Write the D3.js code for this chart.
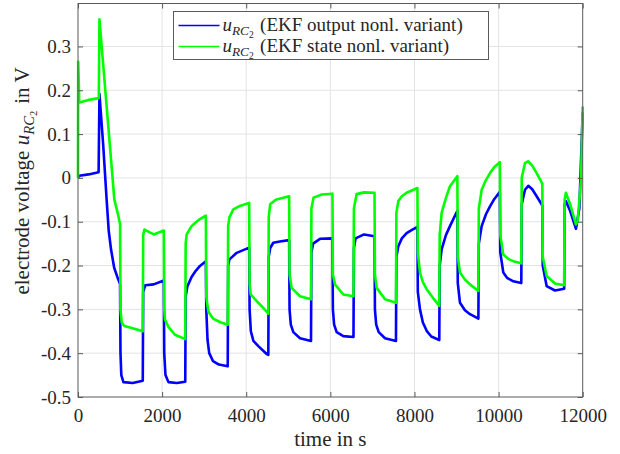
<!DOCTYPE html>
<html>
<head>
<meta charset="utf-8">
<script src="https://cdn.jsdelivr.net/npm/d3@7"></script>
<style>
  body { margin: 0; background: #fff; }
  svg { display: block; }
</style>
</head>
<body>
<svg id="chart" width="620" height="454"></svg>
<script>
// time in s, electrode voltage u_RC2 in V
const OUTPUT_NONL = [
  [0, 0.0], [30, 0.005], [250, 0.008], [490, 0.013], [510, 0.192], [600, 0.074], [681, -0.05], [730, -0.12],
  [785, -0.163], [860, -0.205], [935, -0.226], [1000, -0.242],
  [1010, -0.40], [1030, -0.45], [1080, -0.466], [1300, -0.468], [1540, -0.463],
  [1550, -0.26], [1600, -0.245], [1800, -0.243], [2040, -0.234],
  [2050, -0.40], [2080, -0.45], [2150, -0.466], [2350, -0.468], [2550, -0.465],
  [2560, -0.27], [2600, -0.248], [2700, -0.226], [2800, -0.212], [2900, -0.201], [3040, -0.19],
  [3050, -0.30], [3080, -0.37], [3120, -0.40], [3210, -0.418], [3350, -0.426], [3560, -0.43],
  [3570, -0.20], [3600, -0.186], [3773, -0.171], [3900, -0.166], [4070, -0.159],
  [4080, -0.30], [4110, -0.35], [4170, -0.372], [4300, -0.385], [4486, -0.402], [4525, -0.404],
  [4535, -0.18], [4570, -0.16], [4643, -0.148], [4800, -0.145], [5020, -0.142],
  [5030, -0.30], [5060, -0.335], [5120, -0.352], [5278, -0.366], [5540, -0.372],
  [5550, -0.17], [5590, -0.15], [5754, -0.139], [6050, -0.138],
  [6060, -0.30], [6090, -0.335], [6150, -0.352], [6308, -0.361], [6550, -0.363],
  [6560, -0.16], [6600, -0.138], [6800, -0.129], [7050, -0.133],
  [7060, -0.30], [7090, -0.335], [7150, -0.352], [7299, -0.366], [7560, -0.372],
  [7570, -0.18], [7616, -0.156], [7700, -0.138], [7814, -0.126], [7950, -0.118], [8070, -0.112],
  [8080, -0.26], [8131, -0.30], [8200, -0.33], [8290, -0.349], [8400, -0.362], [8590, -0.37],
  [8600, -0.20], [8646, -0.163], [8750, -0.13], [8844, -0.11], [9020, -0.075],
  [9030, -0.24], [9082, -0.285], [9200, -0.302], [9320, -0.311], [9520, -0.321],
  [9530, -0.15], [9598, -0.11], [9700, -0.083], [9796, -0.065], [9900, -0.048], [10030, -0.032],
  [10040, -0.17], [10112, -0.216], [10200, -0.228], [10350, -0.236], [10540, -0.24],
  [10550, -0.06], [10628, -0.027], [10707, -0.018], [10800, -0.026], [10905, -0.042], [11040, -0.063],
  [11050, -0.20], [11143, -0.247], [11341, -0.257], [11560, -0.253],
  [11570, -0.06], [11600, -0.053], [11700, -0.075], [11840, -0.116], [11920, -0.07], [12000, 0.15]
];

const STATE_NONL = [
  [0, 0.0], [5, 0.265], [30, 0.172], [250, 0.178], [495, 0.182], [510, 0.362], [864, -0.049], [943, -0.08], [1000, -0.105],
  [1010, -0.30], [1040, -0.33], [1100, -0.338], [1300, -0.343], [1540, -0.35],
  [1550, -0.13], [1580, -0.118], [1800, -0.129], [2040, -0.12],
  [2050, -0.30], [2068, -0.323], [2150, -0.340], [2306, -0.358], [2550, -0.368],
  [2560, -0.15], [2584, -0.129], [2700, -0.11], [2782, -0.103], [2900, -0.094], [3040, -0.086],
  [3050, -0.27], [3098, -0.305], [3210, -0.321], [3400, -0.330], [3560, -0.335],
  [3570, -0.11], [3600, -0.09], [3693, -0.072], [3850, -0.064], [4070, -0.057],
  [4080, -0.24], [4105, -0.266], [4249, -0.281], [4400, -0.296], [4525, -0.31],
  [4535, -0.09], [4570, -0.06], [4700, -0.05], [5020, -0.042],
  [5030, -0.22], [5080, -0.251], [5278, -0.27], [5540, -0.277],
  [5550, -0.07], [5600, -0.045], [5800, -0.038], [6050, -0.036],
  [6060, -0.22], [6110, -0.243], [6308, -0.266], [6550, -0.27],
  [6560, -0.07], [6625, -0.037], [6800, -0.033], [7050, -0.034],
  [7060, -0.22], [7101, -0.251], [7299, -0.277], [7560, -0.285],
  [7570, -0.08], [7616, -0.053], [7700, -0.042], [7814, -0.034], [8070, -0.023],
  [8080, -0.17], [8131, -0.216], [8200, -0.238], [8290, -0.254], [8450, -0.275], [8590, -0.292],
  [8600, -0.13], [8646, -0.08], [8750, -0.045], [8844, -0.019], [9020, 0.004],
  [9030, -0.18], [9082, -0.216], [9200, -0.232], [9320, -0.243], [9520, -0.258],
  [9530, -0.07], [9598, -0.027], [9700, -0.005], [9796, 0.011], [9900, 0.025], [10030, 0.036],
  [10040, -0.13], [10112, -0.175], [10250, -0.186], [10350, -0.19], [10540, -0.195],
  [10550, 0.0], [10628, 0.034], [10700, 0.038], [10800, 0.028], [10905, 0.011], [11040, -0.013],
  [11050, -0.18], [11143, -0.224], [11341, -0.241], [11560, -0.245],
  [11570, -0.05], [11600, -0.034], [11700, -0.06], [11840, -0.106], [11880, -0.098], [11960, -0.005], [12000, 0.163]
];

const X_TICKS = [0, 2000, 4000, 6000, 8000, 10000, 12000];
const Y_TICKS = [-0.5, -0.4, -0.3, -0.2, -0.1, 0, 0.1, 0.2, 0.3];
const SERIES_NAMES = ['(EKF output nonl. variant)', '(EKF state nonl. variant)'];
const SERIES_COLORS = ['#0000ff', '#00ff00'];

const SERIF = '"Liberation Serif"';

function drawChart() {
  const svg = d3.select('#chart');
  const margin = { top: 3.5, right: 37.3, bottom: 57, left: 78 };
  const width = 620 - margin.left - margin.right;
  const height = 454 - margin.top - margin.bottom;
  const axisColor = '#5a5a5a';

  const x = d3.scaleLinear().domain([0, 12000]).range([0, width]);
  const y = d3.scaleLinear().domain([-0.5, 0.398]).range([height, 0]);

  const g = svg.append('g').attr('transform', `translate(${margin.left},${margin.top})`);

  // grid
  g.append('g').selectAll('line')
    .data(X_TICKS.slice(1, -1))
    .enter().append('line')
    .attr('x1', d => x(d)).attr('x2', d => x(d))
    .attr('y1', 0).attr('y2', height)
    .attr('stroke', '#e3e3e3');
  g.append('g').selectAll('line')
    .data(Y_TICKS.slice(1))
    .enter().append('line')
    .attr('x1', 0).attr('x2', width)
    .attr('y1', d => y(d)).attr('y2', d => y(d))
    .attr('stroke', '#e3e3e3');

  // series
  const line = d3.line().x(d => x(d[0])).y(d => y(d[1]));
  [OUTPUT_NONL, STATE_NONL].forEach((data, i) => {
    g.append('path')
      .datum(data)
      .attr('fill', 'none')
      .attr('stroke', SERIES_COLORS[i])
      .attr('stroke-width', 2.6)
      .attr('stroke-linejoin', 'round')
      .attr('d', line);
  });

  // axes with inward ticks on all four sides
  const fmt = d => (d < 0 ? '-' : '') + Math.abs(d).toString();
  const styleAxis = sel => {
    sel.select('.domain').remove();
    sel.selectAll('.tick line').attr('stroke', axisColor);
    sel.selectAll('.tick text')
      .attr('fill', '#262626')
      .style('font-family', SERIF)
      .style('font-size', '19px');
  };

  g.append('g').attr('transform', `translate(0,${height})`)
    .call(d3.axisBottom(x).tickValues(X_TICKS).tickSizeInner(-5).tickSizeOuter(0).tickPadding(12).tickFormat(d => d))
    .call(styleAxis);
  g.append('g')
    .call(d3.axisTop(x).tickValues(X_TICKS).tickSizeInner(-5).tickSizeOuter(0).tickFormat(''))
    .call(styleAxis);
  g.append('g')
    .call(d3.axisLeft(y).tickValues(Y_TICKS).tickSizeInner(-5).tickSizeOuter(0).tickPadding(7).tickFormat(fmt))
    .call(styleAxis);
  g.append('g').attr('transform', `translate(${width},0)`)
    .call(d3.axisRight(y).tickValues(Y_TICKS).tickSizeInner(-5).tickSizeOuter(0).tickFormat(''))
    .call(styleAxis);

  g.append('rect')
    .attr('width', width).attr('height', height)
    .attr('fill', 'none').attr('stroke', axisColor).attr('stroke-width', 1);

  // axis labels
  svg.append('text')
    .attr('x', margin.left + width / 2).attr('y', 446)
    .attr('text-anchor', 'middle').attr('fill', '#262626')
    .style('font-family', SERIF).style('font-size', '21px')
    .text('time in s');

  const yl = svg.append('text')
    .attr('transform', `translate(29,181) rotate(-90)`)
    .attr('text-anchor', 'middle').attr('fill', '#262626')
    .style('font-family', SERIF).style('font-size', '21px');
  yl.append('tspan').text('electrode voltage ');
  appendSymbol(yl, 21);
  yl.append('tspan').text(' in V');

  // legend
  const lg = svg.append('g').attr('transform', 'translate(173.5,11.5)');
  lg.append('rect')
    .attr('width', 315).attr('height', 48)
    .attr('fill', '#fff').attr('stroke', axisColor).attr('stroke-width', 1);
  SERIES_NAMES.forEach((name, i) => {
    const cy = 14 + i * 21;
    lg.append('line')
      .attr('x1', 5).attr('x2', 46).attr('y1', cy).attr('y2', cy)
      .attr('stroke', SERIES_COLORS[i]).attr('stroke-width', 1.5);
    const t = lg.append('text')
      .attr('x', 49).attr('y', cy + 5).attr('fill', '#262626')
      .style('font-family', SERIF).style('font-size', '19px');
    appendSymbol(t, 19);
    t.append('tspan').text(' ' + name);
  });
}

// italic u with subscript RC and sub-subscript 2, then back to baseline
function appendSymbol(text, size) {
  text.append('tspan').style('font-style', 'italic').text('u');
  text.append('tspan').style('font-style', 'italic').style('font-size', (size * 0.7) + 'px')
    .attr('dy', size * 0.25).text('RC');
  text.append('tspan').style('font-size', (size * 0.5) + 'px')
    .attr('dy', size * 0.12).text('2');
  text.append('tspan').attr('dy', -size * 0.37).text('\u200a');
}

window.addEventListener('DOMContentLoaded', drawChart);
</script>
</body>
</html>
